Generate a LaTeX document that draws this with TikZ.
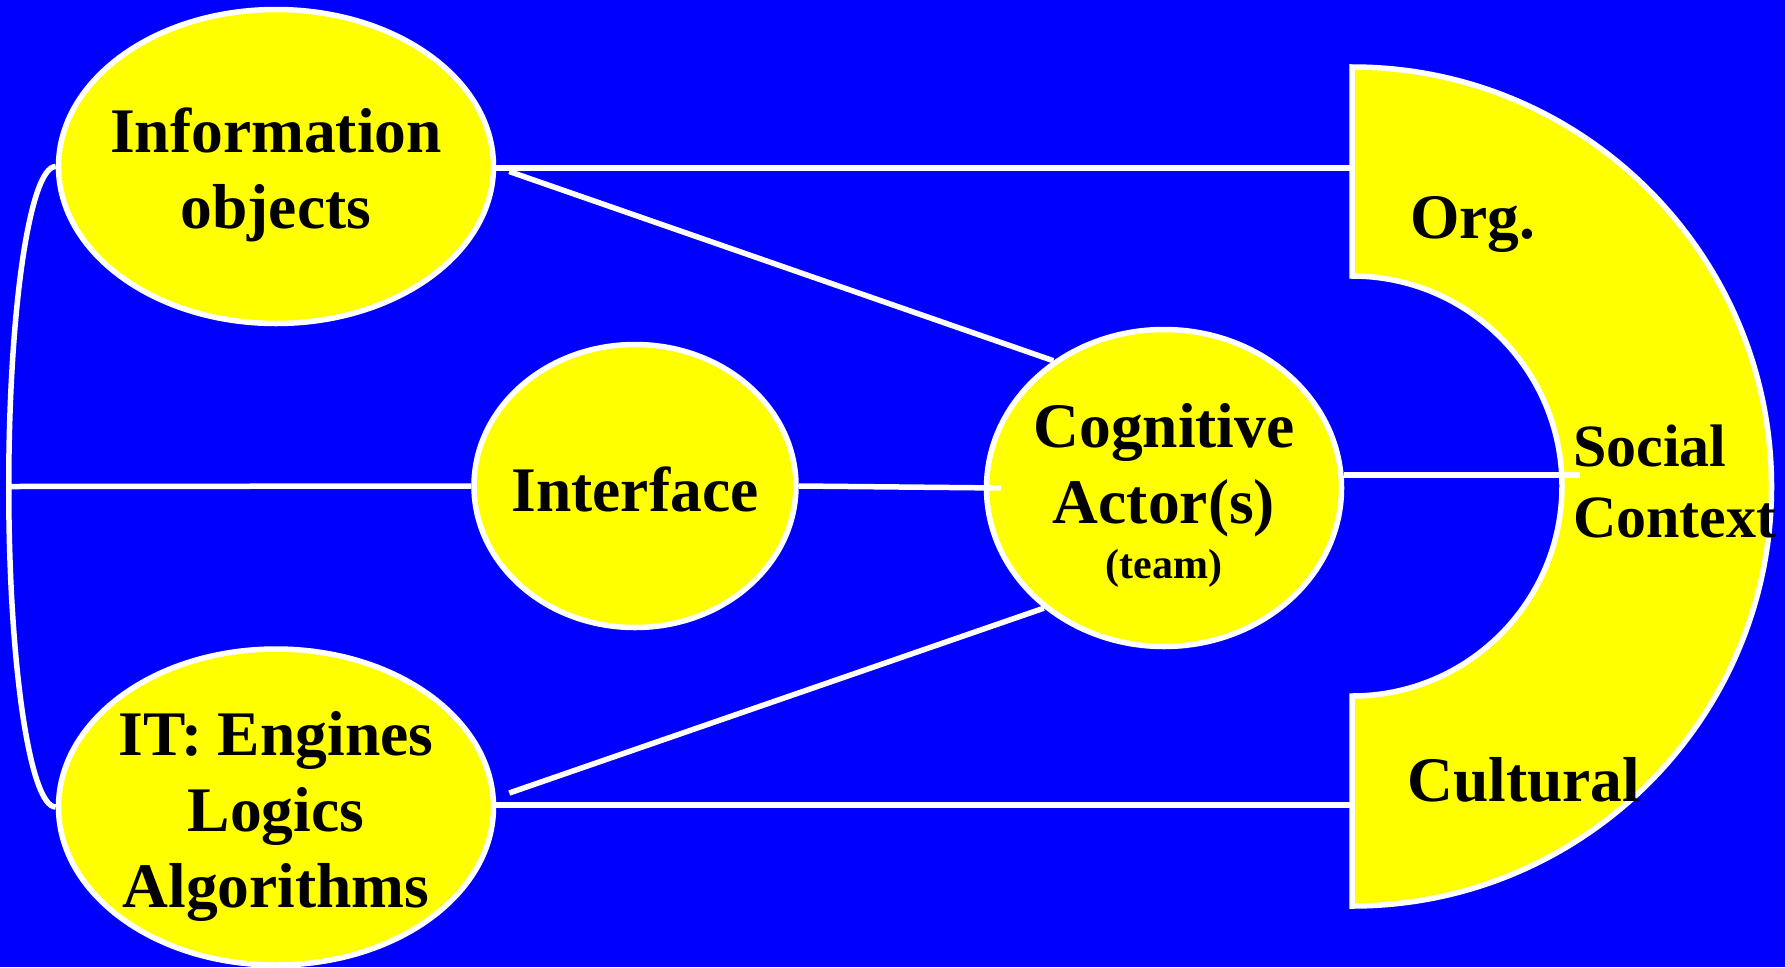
\documentclass[tikz,border=0pt]{standalone}
\usepackage{fontspec}
\setmainfont{Liberation Serif}
\usetikzlibrary{shapes.geometric}
\definecolor{bgblue}{RGB}{0,0,255}
\definecolor{ylw}{RGB}{255,255,0}
\tikzset{
  ell/.style={ellipse, draw=white, line width=5.5pt, fill=ylw, inner sep=0pt},
  conn/.style={draw=white, line width=5.5pt},
  lbl/.style={font=\fontsize{63.5}{76}\selectfont\bfseries, text=black, align=center, inner sep=0pt, anchor=base},
  lbll/.style={lbl, align=left, anchor=base west},
}
\begin{document}
\begin{tikzpicture}[x=1pt,y=1pt]
\fill[bgblue] (0,0) rectangle (1785,-967);
\useasboundingbox (0,0) rectangle (1785,-967);
% social context half ring
\filldraw[fill=ylw, draw=white, line width=5.5pt]
  (1352,-67) -- (1352,-276) arc[start angle=90, end angle=-90, radius=210]
  -- (1352,-906) arc[start angle=-90, end angle=90, radius=419.5] -- cycle;
\coordinate (ringL) at (1352,-486);
\coordinate (sc) at (1580,-475);
\coordinate (brk) at (11,-486.5);
% ellipses
\node[ell, minimum width=435, minimum height=314] (info) at (276,-166.5) {};
\node[ell, minimum width=435, minimum height=316] (it) at (276,-807) {};
\node[ell, minimum width=322, minimum height=283] (iface) at (635,-486) {};
\node[ell, minimum width=355, minimum height=317] (cog) at (1164,-488) {};
% connectors
\draw[conn] (info.west) arc[start angle=90, end angle=270, x radius=47, y radius=320.25];
\draw[conn] (brk) -- (iface.west);
\draw[conn] ([yshift=-1.5pt]info.east) -- ([yshift=-1.5pt]info.east -| ringL);
\draw[conn] ([xshift=13pt,yshift=-5pt]info.east) -- (cog.131);
\draw[conn] ([xshift=13pt,yshift=14pt]it.east) -- (cog.225);
\draw[conn] ([yshift=2pt]it.east) -- ([yshift=2pt]it.east -| ringL);
\draw[conn] (iface.east) -- ([xshift=17pt]cog.west);
\draw[conn] (sc -| cog.east) -- (sc);
% texts
\node[lbl] (infotxt) at (276,-228) {Information\\objects};
\node[lbl] (ittxt) at (276,-907) {IT: Engines\\Logics\\Algorithms};
\node[lbl] (ifacetxt) at (635,-511) {Interface};
\node[lbl] (cogtxt) at (1164,-578) {Cognitive\\Actor(s)\\[-21pt]{\fontsize{42}{50}\selectfont(team)}};
\node[lbll] (org) at (1410,-238) {Org.};
\node[lbll, font=\fontsize{60}{71}\selectfont\bfseries] (social) at (1573,-537) {Social\\Context};
\node[lbll] (cult) at (1407,-801) {Cultural};
\end{tikzpicture}
\end{document}
